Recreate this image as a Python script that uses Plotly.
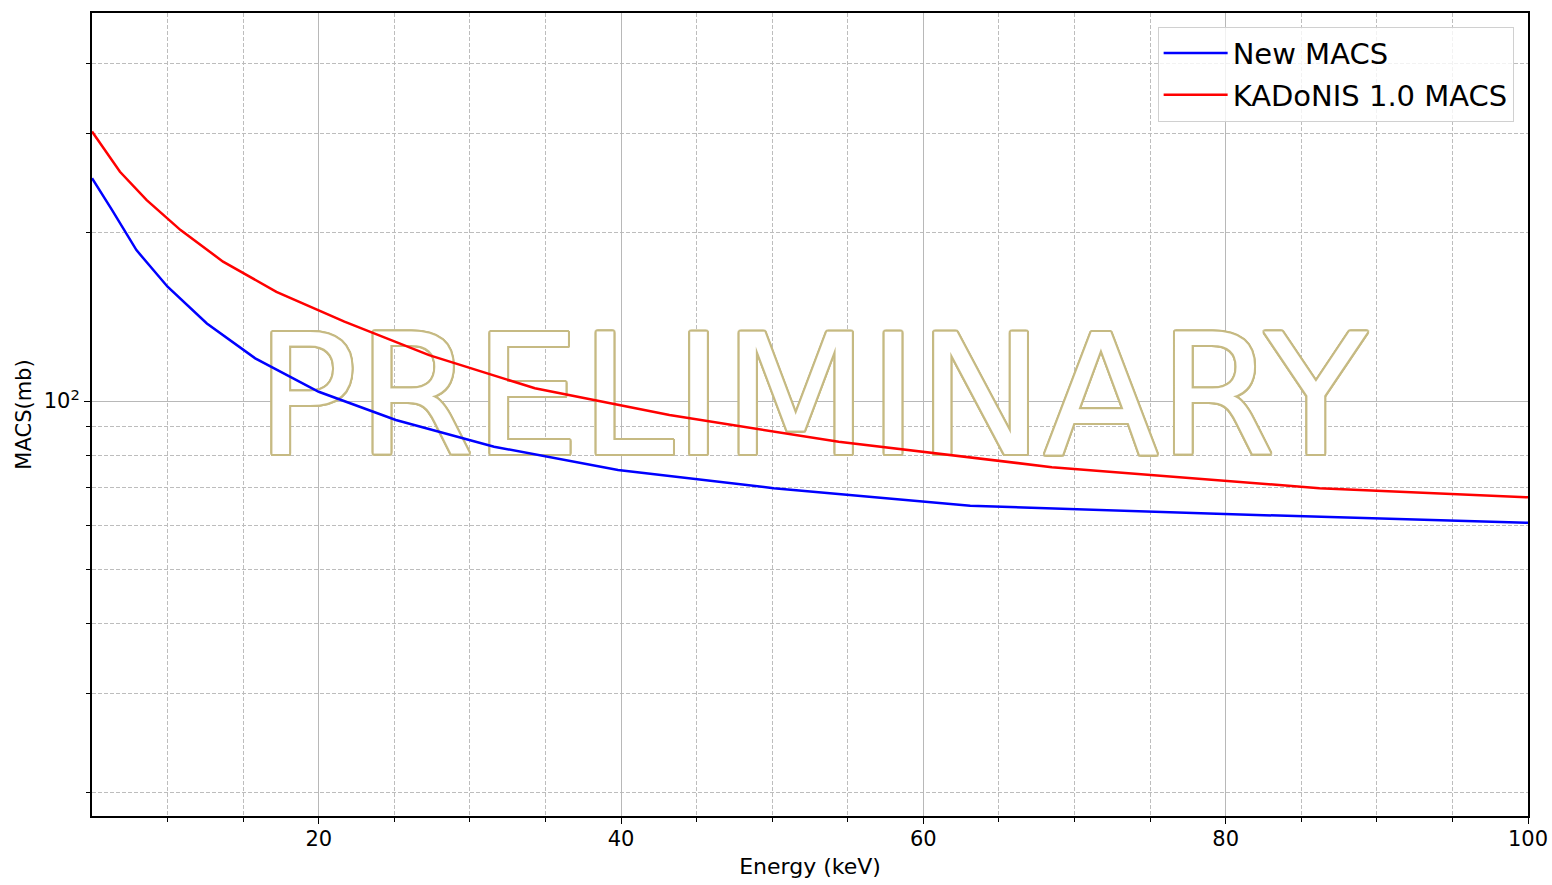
import plotly.graph_objects as go

# ---- data ----
new_energy = [5, 6.3, 7.94, 10, 12.6, 15.8, 20, 25.1, 31.6, 39.8, 50.1, 63.1, 79.4, 100]
new_macs = [250, 220, 186, 160, 137.6, 119.2, 103.9, 92.5, 82.9, 75.3, 69.9, 65.0, 62.9, 60.6]

kad_energy = [5, 6.85, 8.62, 10.86, 13.67, 17.2, 21.7, 27.3, 34.3, 43.2, 54.4, 68.5, 86.2, 100]
kad_macs = [302.9, 256.7, 228.5, 202, 177.4, 156.7, 138.6, 120.8, 105.4, 94.4, 84.6, 76.2, 69.9, 67.3]

x_major = [20, 40, 60, 80, 100]
x_minor = [10, 15, 25, 30, 35, 45, 50, 55, 65, 70, 75, 85, 90, 95]
y_major = [100]
y_major_text = ["10<sup>2</sup>"]
y_minor = [20, 30, 40, 50, 60, 70, 80, 90, 200, 300, 400]

watermark = "PRELIMINARY"

FONT = "DejaVu Sans"
KHAKI = "#c6ba83"

fig = go.Figure()

# watermark as a text trace (drawn beneath the curves)
sh = []
for dx, dy in [(-1.5, -1.5), (1.5, -1.5), (-1.5, 1.5), (1.5, 1.5), (0, 2), (0, -2), (2, 0), (-2, 0),
               (-1, -2), (1, -2), (-1, 2), (1, 2), (2, 1), (2, -1), (-2, 1), (-2, -1)]:
    sh.append(f"{dx}px {dy}px 0 {KHAKI}")
fig.add_trace(go.Scatter(
    x=[52.6], y=[95.6], mode="text", text=[watermark],
    textposition="middle center",
    textfont=dict(family=FONT, size=168, color="white", shadow=", ".join(sh)),
    showlegend=False, hoverinfo="skip",
))

fig.add_trace(go.Scatter(
    x=new_energy, y=new_macs, mode="lines", name="New MACS",
    line=dict(color="#0000ff", width=2.5), legendgroup="a",
))
fig.add_trace(go.Scatter(
    x=kad_energy, y=kad_macs, mode="lines", name="KADoNIS 1.0 MACS",
    line=dict(color="#ff0000", width=2.5), legendgroup="b",
))

grid_major = "#b8b8b8"
grid_minor = "#bdbdbd"

fig.update_xaxes(
    range=[5, 100], tickvals=x_major, ticks="outside", ticklen=6, tickwidth=1,
    tickcolor="black", showline=True, linecolor="black", linewidth=2, mirror=True,
    showgrid=True, gridcolor=grid_major, gridwidth=1, zeroline=False, automargin=False,
    ticklabelstandoff=-3,
    tickfont=dict(family=FONT, size=21, color="black"),
    title=dict(text="Energy (keV)", font=dict(family=FONT, size=22, color="black"), standoff=8),
    minor=dict(tickvals=x_minor, ticks="outside", ticklen=4, tickcolor="black",
               showgrid=True, gridcolor=grid_minor, griddash="4px,2px", gridwidth=1),
)
fig.update_yaxes(
    type="log", range=[1.259, 2.693], tickvals=y_major, ticktext=y_major_text,
    ticks="outside", ticklen=6, tickwidth=1, tickcolor="black",
    showline=True, linecolor="black", linewidth=2, mirror=True,
    showgrid=True, gridcolor=grid_major, gridwidth=1, zeroline=False, automargin=False,
    tickfont=dict(family=FONT, size=21, color="black"),
    title=dict(text="MACS(mb)", font=dict(family=FONT, size=21, color="black"), standoff=6),
    minor=dict(tickvals=y_minor, ticks="outside", ticklen=4, tickcolor="black",
               showgrid=True, gridcolor=grid_minor, griddash="4px,2px", gridwidth=1),
)

fig.update_layout(
    width=1552, height=885,
    margin=dict(l=92, r=24, t=13, b=69),
    plot_bgcolor="white", paper_bgcolor="white",
    font=dict(family=FONT, color="black"),
    legend=dict(
        x=0.990, y=0.983, xanchor="right", yanchor="top",
        bgcolor="rgba(255,255,255,0.8)", bordercolor="#d0d0d0", borderwidth=1,
        font=dict(family=FONT, size=29, color="black"),
        tracegroupgap=1, traceorder="grouped", itemwidth=64,
    ),
)

fig.write_html("out.html")
